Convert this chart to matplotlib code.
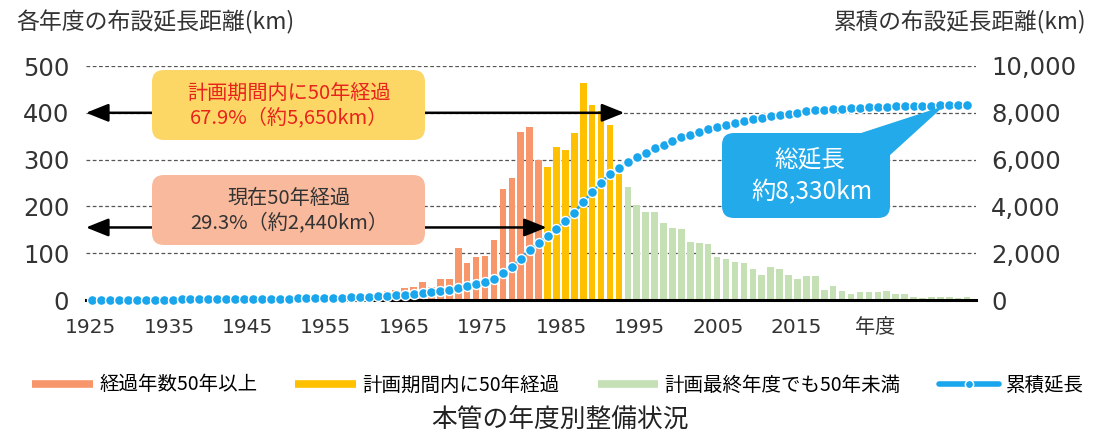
import numpy as np
import matplotlib
matplotlib.use("Agg")
import matplotlib.pyplot as plt
from matplotlib.patches import FancyBboxPatch, FancyArrowPatch, Polygon
from matplotlib.lines import Line2D
from matplotlib.ticker import FuncFormatter

plt.rcParams["font.family"] = ["Noto Sans CJK JP", "DejaVu Sans"]

# ---- data: main pipe laid per fiscal year (km) ----
years = np.arange(1925, 2024)
# built 1925-1975: already 50+ years old
length_over_50 = [1, 1, 1, 2, 2, 2, 2, 2, 3, 3,
                  3, 4, 4, 4, 3, 3, 2, 2, 2, 3,
                  3, 4, 5, 6, 7, 7, 8, 8, 9, 10,
                  12, 15, 18, 20, 22, 25,
                  28, 38, 27, 45, 45, 112, 78, 91, 94, 128, 238, 261, 358, 370, 299]
# built 1976-1984: reaches 50 years within the plan period
length_within_plan = [284, 327, 320, 357, 464, 417, 404, 373, 270]
# built 1985-2023: still under 50 years at the final plan year
length_under_50 = [241, 204, 189, 188, 165, 154, 151, 124, 122, 120,
                   92, 88, 82, 78, 67, 53, 70, 67, 54, 44,
                   51, 51, 22, 30, 19, 13, 17, 17, 17, 20,
                   13, 13, 6, 5, 6, 6, 6, 4, 6]

left_ticks = [0, 100, 200, 300, 400, 500]
right_ticks = [0, 2000, 4000, 6000, 8000, 10000]
x_tick_labels = ["1925", "1935", "1945", "1955", "1965", "1975",
                 "1985", "1995", "2005", "2015", "年度"]

series_labels = ["経過年数50年以上", "計画期間内に50年経過",
                 "計画最終年度でも50年未満", "累積延長"]

annual = np.array(length_over_50 + length_within_plan + length_under_50)
cumulative = np.cumsum(annual)
n_old = len(length_over_50)
n_plan = len(length_within_plan)

c_old = "#F7966B"
c_plan = "#FFC000"
c_new = "#C5E0B4"
c_cum = "#1AA6EC"

W, H = 1102, 438
fig = plt.figure(figsize=(W / 100, H / 100), dpi=100)
fig.patch.set_facecolor("white")


def fx(px):
    return px / W


def fy(py):
    return 1 - py / H


ax = fig.add_axes([fx(86), fy(300), 890 / W, 234 / H])

bw = 0.74
ax.bar(years[:n_old], length_over_50, width=bw, color=c_old, zorder=2)
ax.bar(years[n_old:n_old + n_plan], length_within_plan, width=bw, color=c_plan, zorder=2)
ax.bar(years[n_old + n_plan:], length_under_50, width=bw, color=c_new, zorder=2)

ax.set_xlim(1924.3, 2024.0)
ax.set_ylim(0, 500)
ax.set_yticks(left_ticks)
ax.yaxis.grid(True, linestyle=(0, (3, 2)), color="#555555", lw=0.9)
ax.set_axisbelow(True)
for s in ("top", "left", "right"):
    ax.spines[s].set_visible(False)
ax.spines["bottom"].set_color("black")
ax.spines["bottom"].set_linewidth(2.2)
ax.spines["bottom"].set_zorder(3)

# category labels are spread on their own spacing along the axis
ax.set_xticks(np.linspace(1924.8, 2012.7, len(x_tick_labels)))
ax.set_xticklabels(x_tick_labels)
ax.tick_params(axis="both", length=0, colors="#333333")
ax.tick_params(axis="x", pad=13, labelsize=14.5)
ax.tick_params(axis="y", pad=12, labelsize=17.5)
for lab in ax.get_xticklabels() + ax.get_yticklabels():
    lab.set_family(["DejaVu Sans", "Noto Sans CJK JP"])

# arrows spanning the 50-year groups
old_edge = years[n_old - 1] + 0.5
plan_edge = years[n_old + n_plan - 1] + 0.5
for y_level, x_end in ((400, plan_edge + 0.1), (155, old_edge + 0.4)):
    arr = FancyArrowPatch((1924.3, y_level), (x_end, y_level),
                          arrowstyle="<|-|>,head_length=1.37,head_width=0.55",
                          mutation_scale=10, lw=1.8, color="black",
                          shrinkA=0, shrinkB=0, zorder=4, clip_on=False)
    ax.add_patch(arr)

# cumulative length on the right axis
ax2 = ax.twinx()
ax2.set_ylim(0, 10000)
ax2.set_yticks(right_ticks)
ax2.yaxis.set_major_formatter(FuncFormatter(lambda v, p: f"{int(v):,}"))
for s in ax2.spines.values():
    s.set_visible(False)
ax2.tick_params(axis="y", length=0, pad=11, labelsize=17.5, colors="#333333")
for lab in ax2.get_yticklabels():
    lab.set_family(["DejaVu Sans", "Noto Sans CJK JP"])
ax2.plot(years, cumulative, color=c_cum, lw=2, marker="o", ms=7.2,
         mfc=c_cum, mec="white", mew=1.0, zorder=3, clip_on=False)

# callout boxes drawn on a pixel-based overlay
ov = fig.add_axes([0, 0, 1, 1])
ov.set_xlim(0, W)
ov.set_ylim(H, 0)
ov.axis("off")
ov.set_zorder(5)
ov.patch.set_alpha(0)


def callout(x0, y0, x1, y1, color):
    ov.add_patch(FancyBboxPatch((x0, y0), x1 - x0, y1 - y0,
                                boxstyle="round,pad=0,rounding_size=12",
                                fc=color, ec="none"))


callout(152, 70, 425, 140, "#FDD766")
ov.text(289, 93, "計画期間内に50年経過", ha="center", va="center",
        fontsize=14.5, color="#E8231C")
ov.text(289, 118, "67.9%（約5,650km）", ha="center", va="center",
        fontsize=14.5, color="#E8231C")

callout(152, 175, 425, 245, "#F9B99C")
ov.text(289, 198, "現在50年経過", ha="center", va="center",
        fontsize=14.5, color="#333333")
ov.text(289, 223, "29.3%（約2,440km）", ha="center", va="center",
        fontsize=14.5, color="#333333")

callout(722, 133, 890, 218, "#22AAEA")
ov.add_patch(Polygon([(858, 134), (889, 156), (944, 106)], closed=True,
                     fc="#22AAEA", ec="none"))
ov.text(810, 160, "総延長", ha="center", va="center", fontsize=17, color="white")
ov.text(812, 192, "約8,330km", ha="center", va="center", fontsize=17.5, color="white")

# axis headers
fig.text(fx(16), fy(22), "各年度の布設延長距離(km)", ha="left", va="center",
         fontsize=16.5, color="#333333")
fig.text(fx(1086), fy(22), "累積の布設延長距離(km)", ha="right", va="center",
         fontsize=16.3, color="#333333")

# legend
handles = [
    Line2D([], [], color=c_old, lw=5.5, solid_capstyle="butt"),
    Line2D([], [], color=c_plan, lw=5.5, solid_capstyle="butt"),
    Line2D([], [], color=c_new, lw=5.5, solid_capstyle="butt"),
    Line2D([], [], color=c_cum, lw=4, marker="o", ms=6, mfc=c_cum, mec="white",
           mew=1.1, solid_capstyle="round"),
]
fig.legend(handles, series_labels, loc="center", bbox_to_anchor=(fx(558), fy(385)),
           ncol=4, frameon=False, fontsize=14, handlelength=3.1,
           handletextpad=0.35, columnspacing=1.95, numpoints=1)

fig.text(fx(560), fy(420), "本管の年度別整備状況", ha="center", va="center",
         fontsize=18.5, color="#222222")

fig.savefig("out.png", dpi=100)
